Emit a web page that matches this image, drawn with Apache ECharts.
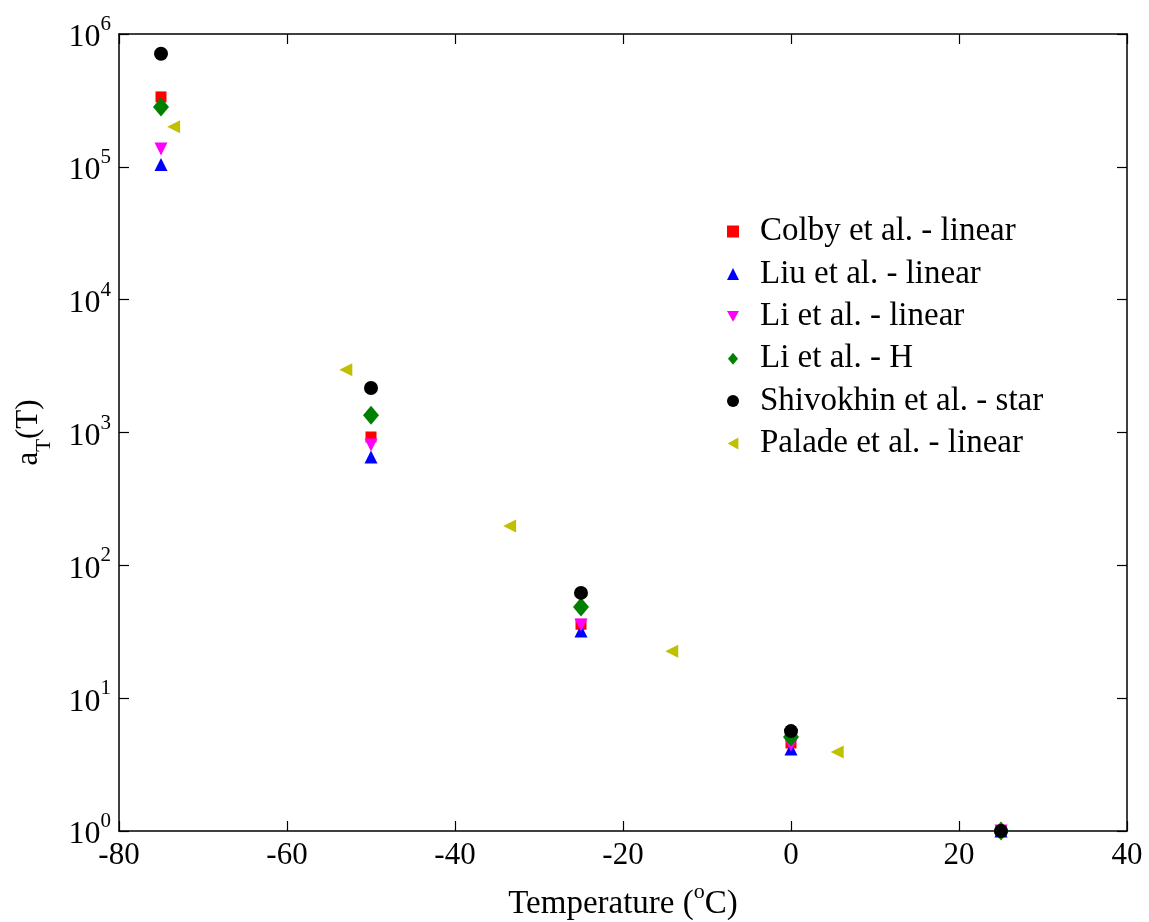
<!DOCTYPE html>
<html>
<head>
<meta charset="utf-8">
<script src="https://cdn.jsdelivr.net/npm/echarts@6/dist/echarts.min.js"></script>
<style>html,body{margin:0;padding:0;background:#fff;}#c{width:1149px;height:922px;}</style>
</head>
<body>
<div id="c"></div>
<script>
const seriesNames = ['Colby et al. - linear','Liu et al. - linear','Li et al. - linear','Li et al. - H','Shivokhin et al. - star','Palade et al. - linear'];
const colbyData = [[-75, 3.36e5],[-50, 925],[-25, 36],[0, 4.6],[25, 1]];
const liuData = [[-75, 1.04e5],[-50, 655],[-25, 32],[0, 4.15],[25, 1]];
const liLinData = [[-75, 1.36e5],[-50, 805],[-25, 35.5],[0, 4.45],[25, 1]];
const liHData = [[-75, 2.82e5],[-50, 1350],[-25, 48.5],[0, 5.1],[25, 1]];
const shivData = [[-75, 7.1e5],[-50, 2160],[-25, 62],[0, 5.65],[25, 1]];
const paladeData = [[-73.5, 2.0e5],[-53, 2970],[-33.5, 198],[-14.2, 22.6],[5.5, 3.93]];
const xTicks = [-80, -60, -40, -20, 0, 20, 40];

const FONT = '"Liberation Serif", "Times New Roman", serif';
const styles = [
  {color:'#ff0000', symbol:'rect', size:11, rotate:0, icon:'rect'},
  {color:'#0000ff', symbol:'triangle', size:13, rotate:0, icon:'triangle'},
  {color:'#ff00ff', symbol:'triangle', size:13, rotate:180, icon:'path://M0,0L10,0L5,9Z'},
  {color:'#008000', symbol:'diamond', size:[16,19], rotate:0, icon:'path://M5,0L10,6L5,12L0,6Z'},
  {color:'#000000', symbol:'circle', size:14, rotate:0, icon:'circle'},
  {color:'#c0c000', symbol:'triangle', size:13, rotate:90, icon:'path://M9,0L9,10L0,5Z'}
];
const datasets = [colbyData, liuData, liLinData, liHData, shivData, paladeData];

const series = seriesNames.map((n,i)=>({
  name:n, type:'scatter', data:datasets[i],
  symbol:styles[i].symbol, symbolSize:styles[i].size, symbolRotate:styles[i].rotate,
  itemStyle:{color:styles[i].color, opacity:1},
  z: 2+i
}));

const logLabel = {
  formatter: v => '{b|10}{s|' + Math.round(Math.log10(v)) + '}',
  rich: {
    b:{fontFamily:FONT, fontSize:32, color:'#000', verticalAlign:'bottom', lineHeight:40},
    s:{fontFamily:FONT, fontSize:21, color:'#000', verticalAlign:'top', lineHeight:40}
  }
};

const axisCommon = {
  axisLine:{onZero:false, lineStyle:{color:'#000', width:1.5}},
  axisTick:{inside:true, length:10, lineStyle:{color:'#000', width:1.2}},
  splitLine:{show:false}
};

const chart = echarts.init(document.getElementById('c'));
chart.setOption({
  backgroundColor:'#fff',
  animation:false,
  grid:{left:119, right:22, top:34, bottom:91, containLabel:false, outerBoundsMode:'none'},
  legend:{
    orient:'vertical', left:722, top:210, itemGap:9.4, itemWidth:12, itemHeight:12,
    textStyle:{fontFamily:FONT, fontSize:33, lineHeight:33, color:'#000', padding:[0,0,0,16]},
    data:seriesNames.map((n,i)=>({name:n, icon:styles[i].icon}))
  },
  xAxis:[Object.assign({
    type:'value', min:-80, max:40, interval:20, position:'bottom',
    axisLabel:{fontFamily:FONT, fontSize:31, color:'#000', margin:9},
    name:'{t|Temperature (}{s|o}{t|C)}', nameLocation:'middle', nameGap:50,
    nameTextStyle:{rich:{
      t:{fontFamily:FONT, fontSize:33, color:'#000', verticalAlign:'bottom', lineHeight:40},
      s:{fontFamily:FONT, fontSize:22, color:'#000', verticalAlign:'top', lineHeight:40}
    }}
  }, axisCommon), Object.assign({
    type:'value', min:-80, max:40, interval:20, position:'top',
    axisLabel:{show:false}
  }, axisCommon)],
  yAxis:[Object.assign({
    type:'log', logBase:10, min:1, max:1e6, position:'left',
    minorTick:{show:false},
    axisLabel:Object.assign({margin:8}, logLabel),
    name:'{a|a}{s|T}{a|(T)}', nameLocation:'middle', nameGap:64, nameRotate:90,
    nameTextStyle:{rich:{
      a:{fontFamily:FONT, fontSize:31, color:'#000', verticalAlign:'top', lineHeight:42},
      s:{fontFamily:FONT, fontSize:21, color:'#000', verticalAlign:'bottom', lineHeight:42}
    }}
  }, axisCommon), Object.assign({
    type:'log', logBase:10, min:1, max:1e6, position:'right',
    axisLabel:{show:false}
  }, axisCommon)],
  series: series
});
</script>
</body>
</html>
